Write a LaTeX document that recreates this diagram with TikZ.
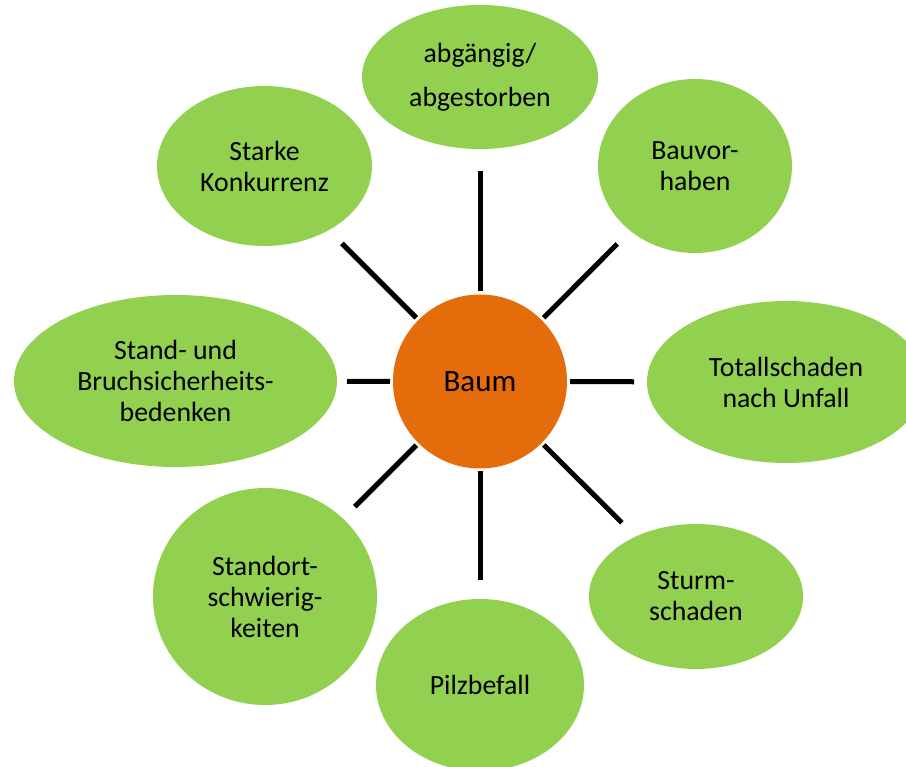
\documentclass[tikz,border=0pt]{standalone}
\usepackage{fontspec}
\setmainfont{Carlito}
\usetikzlibrary{shapes.geometric}
\definecolor{leafgreen}{HTML}{92D050}
\definecolor{trunkorange}{HTML}{E46C0A}
\tikzset{
  leaf/.style={ellipse, fill=leafgreen, draw=none, inner sep=0pt, align=center,
    font=\fontsize{27.8}{31}\selectfont},
  centre/.style={circle, fill=trunkorange, draw=none, inner sep=0pt, align=center,
    font=\fontsize{31}{36}\selectfont},
  spoke/.style={draw=black, line width=5pt, shorten <=90pt}
}
\begin{document}
\begin{tikzpicture}[x=1pt, y=-1pt]
\useasboundingbox (0,0) rectangle (906,767);
\clip (0,0) rectangle (906,767);
\node[centre, minimum size=174pt] (baum) at (480,381.5) {Baum};
\node[leaf, minimum width=236pt, minimum height=144pt, font=\fontsize{27.8}{44}\selectfont] (top) at (480,77) {abgängig/\\abgestorben};
\node[leaf, minimum width=194pt, minimum height=174pt] (bau) at (695,166) {Bauvor-\\haben};
\node[leaf, minimum width=278pt, minimum height=162pt] (total) at (786,382) {Totallschaden\\nach Unfall};
\node[leaf, minimum width=214pt, minimum height=145pt] (sturm) at (696,596.5) {Sturm-\\schaden};
\node[leaf, minimum width=208pt, minimum height=172pt] (pilz) at (480,685) {Pilzbefall};
\node[leaf, minimum width=224pt, minimum height=217pt] (ort) at (265,596.5) {Standort-\\schwierig-\\keiten};
\node[leaf, minimum width=323pt, minimum height=172pt] (stand) at (175.5,381) {Stand- und\\Bruchsicherheits-\\bedenken};
\node[leaf, minimum width=215pt, minimum height=160pt] (starke) at (264.5,166) {Starke\\Konkurrenz};
\draw[spoke, shorten >=94pt] (baum.center) -- (top.center);
\draw[spoke, shorten >=110pt] (baum.center) -- (bau.center);
\draw[spoke, shorten >=152pt] (baum.center) -- (total.center);
\draw[spoke, shorten >=104.5pt] (baum.center) -- (sturm.center);
\draw[spoke, shorten >=105pt] (baum.center) -- (pilz.center);
\draw[spoke, shorten >=127pt] (baum.center) -- (ort.center);
\draw[spoke, shorten >=171.5pt] (baum.center) -- (stand.center);
\draw[spoke, shorten >=109.5pt] (baum.center) -- (starke.center);
\end{tikzpicture}
\end{document}
